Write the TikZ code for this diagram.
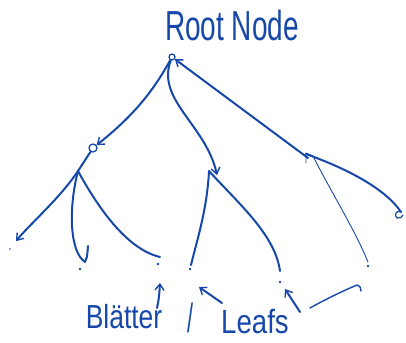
\documentclass[tikz,border=0pt]{standalone}
\usepackage{fontspec}
\setmainfont{Liberation Sans}
\usetikzlibrary{arrows.meta}
\definecolor{ink}{RGB}{22,72,170}
\begin{document}
\begin{tikzpicture}[x=1pt,y=-1pt,line cap=round,line join=round,
  edge/.style={draw=ink,line width=2pt},
  thinedge/.style={draw=ink,line width=0.9pt},
  tip/.style={-{Straight Barb[length=6pt,width=9pt,line width=1.4pt]}},
  leaf/.style={circle,fill=ink,inner sep=0pt,minimum size=2.8pt},
  vertex/.style={circle,draw=ink,line width=1.3pt,inner sep=0pt},
  hand/.style={text=ink,inner sep=0pt}]
\useasboundingbox (0,0) rectangle (406,342);
% title
\node[hand,font=\fontsize{28}{30}\selectfont] (title) at (232,25) {\scalebox{1}[1.5]{Root Node}};
% inner vertices
\node[vertex,minimum size=6pt] (root) at (172,57) {};
\node[vertex,minimum size=8pt] (c1) at (93,148) {};
\coordinate (c2) at (217,175);
\coordinate (c3) at (308,158);
\coordinate (f1) at (78,171);
\coordinate (f2) at (209,171);
% leaves
\node[leaf,minimum size=1.8pt] (l1) at (10,249) {};
\node[leaf] (l2) at (80,269) {};
\node[leaf] (l3) at (158,264) {};
\node[leaf] (l4) at (190,269) {};
\node[leaf] (l5) at (280,282) {};
\node[leaf] (l6) at (368,266) {};
% ends of lines near leaves
\coordinate (e1) at (16,241);
\coordinate (e2) at (85,262);
\coordinate (e3) at (160,257);
\coordinate (e4) at (191,265);
\coordinate (e5) at (280,271);
\coordinate (e6) at (368,262);
\coordinate (e7) at (401,212);
% root edges
\draw[edge,tip] (root) .. controls (150,97) and (128,120) .. (c1);
\draw[edge,tip] (root) .. controls (156,100) and (206,125) .. (c2);
\draw[edge,tip] (c3) -- (root);
% first child
\draw[edge] (c1) -- (f1);
\draw[edge,tip] (f1) .. controls (60,198) and (32,222) .. (e1);
\draw[edge] (f1) .. controls (68,210) and (70,252) .. (e2) .. controls (87,258) .. (88,246);
\draw[edge] (f1) .. controls (102,215) and (130,250) .. (e3);
% second child
\draw[edge] (f2) .. controls (207,210) and (197,240) .. (e4);
\draw[edge] (f2) .. controls (240,205) and (275,235) .. (e5);
% third child
\draw[thinedge] (306,163) -- (306,153) -- (313,156) .. controls (330,190) and (355,230) .. (e6);
\draw[edge] (306,154) .. controls (345,168) and (385,188) .. (e7);
\draw[thinedge,line width=1.2pt] (401,212) .. controls (396,209) and (394,216) .. (397,218) .. controls (400,219) and (402,217) .. (403,215);
% bottom labels
\node[hand,font=\fontsize{23}{26}\selectfont] (bl) at (124,317) {\scalebox{1.15}[1.45]{Blätter}};
\node[hand,font=\fontsize{24}{26}\selectfont] (sl) at (190,318) {\scalebox{0.9}[1.7]{/}};
\node[hand,font=\fontsize{24}{26}\selectfont] (lf) at (255,322) {\scalebox{1.15}[1.4]{Leafs}};
% pointers from labels
\coordinate (p1) at (157,308);
\coordinate (p2) at (222,303);
\coordinate (p3) at (300,312);
\coordinate (p4) at (310,308);
\draw[edge,tip] (p1) .. controls (159,298) .. (160,283);
\draw[edge,tip] (p2) -- (199,287);
\draw[edge,tip] (p3) -- (285,289);
\draw[thinedge,line width=1.4pt] (p4) .. controls (328,298) and (345,290) .. (357,285) .. controls (360,286) .. (361,291);
\end{tikzpicture}
\end{document}
